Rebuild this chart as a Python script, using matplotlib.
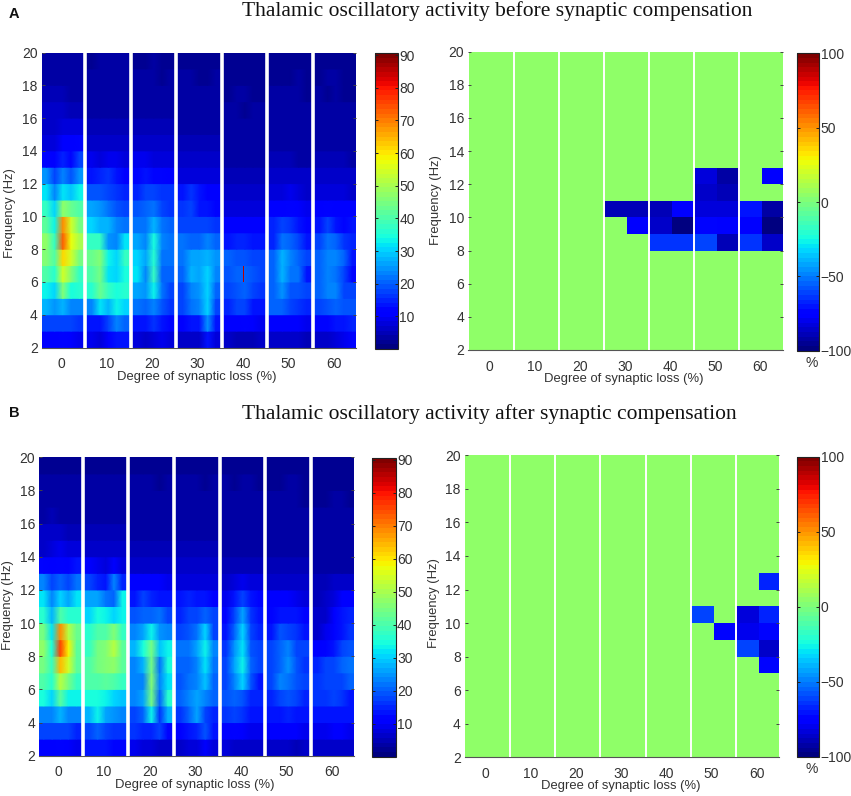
import numpy as np
import matplotlib
matplotlib.use('Agg')
import matplotlib.pyplot as plt
from matplotlib.cm import ScalarMappable
from matplotlib.colors import Normalize

W, H = 851, 796
plt.rcParams['font.family'] = ['Liberation Sans', 'DejaVu Sans']

groups = [0, 10, 20, 30, 40, 50, 60]
freq_edges = np.arange(2, 21)
freq_ticks = np.arange(2, 21, 2)

# power per group, one row per 1 Hz bin from 2-3 Hz up to 19-20 Hz, 5 stripes across
A_power = [
    [[10, 10, 12, 11, 9], [17, 17, 18, 17, 16], [27, 25, 28, 24, 24], [33, 31, 46, 34, 36], [40, 36, 54, 46, 38],
     [46, 40, 62, 54, 45], [47, 38, 73, 57, 50], [42, 33, 68, 54, 44], [38, 30, 48, 43, 40], [32, 23, 32, 29, 33],
     [25, 18, 23, 19, 25], [12, 11, 15, 12, 17], [8, 8, 10, 10, 12], [7, 7, 8, 8, 8], [6, 6, 6, 5, 5],
     [5, 5, 5, 4, 4], [4, 3, 4, 3, 4], [3, 3, 3, 3, 3]],
    [[9, 8, 11, 14, 14], [13, 13, 18, 23, 20], [24, 32, 27, 33, 30], [36, 43, 37, 35, 36], [41, 44, 32, 31, 34],
     [43, 46, 33, 30, 37], [38, 38, 25, 24, 32], [30, 28, 27, 23, 22], [26, 25, 22, 19, 17], [19, 19, 17, 16, 15],
     [14, 15, 16, 13, 11], [9, 8, 9, 9, 8], [7, 6, 6, 7, 6], [5, 5, 5, 5, 5], [4, 4, 4, 4, 4],
     [3, 3, 3, 4, 3], [3, 3, 3, 3, 3], [2, 3, 3, 3, 3]],
    [[8, 7, 8, 9, 8], [14, 14, 16, 14, 12], [22, 21, 24, 19, 16], [26, 25, 33, 22, 18], [32, 24, 38, 20, 21],
     [30, 26, 36, 22, 22], [26, 24, 34, 24, 22], [22, 22, 27, 22, 20], [19, 20, 22, 18, 16], [15, 17, 17, 16, 16],
     [12, 13, 12, 12, 10], [9, 9, 8, 8, 8], [7, 6, 6, 6, 6], [5, 5, 5, 5, 5], [4, 4, 4, 4, 4],
     [3, 3, 3, 3, 3], [3, 3, 3, 2, 3], [2, 2, 3, 2, 2]],
    [[6, 7, 7, 13, 8], [10, 14, 13, 25, 14], [17, 22, 23, 30, 18], [18, 24, 25, 31, 20], [21, 27, 26, 30, 24],
     [22, 26, 26, 28, 25], [22, 21, 20, 23, 20], [17, 18, 17, 18, 16], [16, 17, 14, 14, 12], [13, 16, 13, 11, 10],
     [8, 8, 8, 8, 8], [7, 7, 7, 6, 6], [5, 5, 5, 5, 5], [4, 4, 4, 4, 4], [4, 3, 3, 3, 3],
     [3, 3, 3, 3, 3], [3, 3, 2, 2, 3], [2, 2, 2, 2, 2]],
    [[6, 5, 5, 5, 6], [10, 10, 12, 10, 9], [15, 17, 17, 14, 13], [17, 19, 20, 18, 16], [19, 20, 21, 19, 18],
     [20, 19, 19, 18, 17], [14, 15, 15, 14, 13], [11, 11, 11, 11, 10], [8, 8, 8, 8, 8], [6, 6, 6, 6, 6],
     [5, 5, 5, 5, 5], [4, 4, 4, 4, 4], [3, 3, 3, 3, 3], [3, 3, 3, 3, 3], [3, 3, 2, 3, 3],
     [2, 3, 3, 2, 2], [2, 2, 2, 2, 2], [2, 2, 2, 2, 2]],
    [[6, 6, 6, 6, 5], [11, 11, 10, 11, 9], [20, 21, 17, 16, 15], [20, 25, 19, 19, 18], [21, 27, 22, 22, 13],
     [21, 28, 23, 20, 18], [15, 22, 21, 17, 13], [15, 18, 16, 14, 11], [11, 11, 12, 11, 9], [8, 8, 9, 8, 7],
     [6, 6, 6, 6, 6], [5, 5, 5, 4, 4], [3, 3, 3, 3, 3], [3, 3, 3, 3, 3], [3, 3, 3, 3, 3],
     [3, 3, 3, 3, 2], [2, 2, 2, 3, 2], [2, 2, 2, 2, 2]],
    [[7, 7, 8, 9, 12], [12, 12, 14, 14, 15], [18, 19, 20, 19, 19], [20, 23, 24, 18, 17], [21, 24, 22, 18, 12],
     [20, 23, 24, 21, 13], [17, 22, 20, 16, 15], [13, 18, 14, 12, 13], [11, 12, 10, 11, 10], [8, 8, 8, 8, 7],
     [6, 6, 7, 6, 6], [5, 5, 5, 5, 4], [4, 4, 3, 3, 3], [3, 3, 3, 3, 3], [3, 3, 3, 3, 3],
     [3, 2, 3, 2, 2], [2, 3, 3, 2, 2], [2, 2, 2, 2, 2]],
]
B_power = [
    [[10, 10, 12, 10, 9], [18, 17, 17, 17, 15], [24, 24, 28, 23, 23], [34, 30, 42, 33, 33], [40, 36, 52, 45, 38],
     [44, 38, 64, 54, 42], [48, 34, 76, 58, 42], [44, 32, 68, 52, 43], [36, 28, 40, 36, 36], [32, 23, 30, 26, 32],
     [23, 17, 20, 17, 22], [12, 11, 12, 11, 14], [7, 8, 9, 8, 8], [6, 6, 6, 5, 5], [4, 5, 4, 4, 4],
     [4, 4, 3, 4, 3], [3, 3, 3, 3, 3], [2, 2, 2, 2, 2]],
    [[13, 14, 14, 12, 12], [18, 20, 18, 16, 16], [28, 33, 26, 25, 24], [34, 35, 33, 31, 29], [41, 40, 42, 41, 38],
     [40, 44, 46, 48, 42], [38, 44, 46, 51, 42], [36, 40, 40, 46, 37], [30, 34, 33, 31, 33], [26, 26, 22, 21, 33],
     [18, 15, 13, 23, 15], [10, 9, 8, 10, 8], [6, 6, 6, 6, 6], [5, 5, 5, 5, 5], [4, 4, 4, 4, 4],
     [3, 3, 3, 3, 3], [3, 3, 3, 3, 3], [2, 2, 2, 2, 2]],
    [[9, 8, 8, 7, 6], [16, 15, 15, 18, 12], [18, 21, 33, 16, 27], [24, 26, 45, 20, 36], [24, 24, 46, 24, 32],
     [24, 27, 44, 22, 34], [28, 34, 45, 29, 33], [24, 26, 33, 25, 23], [19, 21, 21, 22, 18], [14, 17, 15, 14, 14],
     [10, 11, 10, 10, 9], [7, 7, 7, 7, 7], [5, 5, 5, 5, 5], [4, 4, 4, 4, 4], [3, 3, 3, 4, 3],
     [3, 3, 3, 3, 3], [3, 3, 3, 2, 3], [2, 2, 2, 2, 2]],
    [[7, 8, 8, 11, 8], [10, 13, 15, 19, 13], [16, 21, 26, 18, 15], [20, 24, 26, 24, 20], [19, 22, 23, 29, 20],
     [21, 21, 24, 32, 22], [22, 22, 26, 33, 23], [18, 19, 22, 30, 18], [15, 17, 18, 21, 17], [13, 15, 13, 14, 11],
     [8, 8, 8, 8, 8], [6, 6, 6, 6, 6], [5, 5, 5, 5, 5], [4, 4, 4, 4, 4], [3, 3, 3, 3, 3],
     [3, 3, 3, 3, 3], [3, 3, 3, 2, 3], [2, 2, 2, 2, 2]],
    [[8, 7, 6, 6, 6], [11, 12, 11, 9, 9], [16, 17, 16, 14, 14], [19, 21, 19, 15, 15], [18, 24, 30, 19, 14],
     [18, 26, 33, 20, 17], [16, 25, 32, 19, 18], [14, 21, 31, 17, 15], [12, 17, 26, 16, 13], [9, 13, 18, 14, 12],
     [7, 8, 9, 8, 8], [5, 5, 5, 5, 5], [4, 4, 4, 4, 4], [3, 3, 3, 3, 3], [3, 3, 3, 3, 3],
     [3, 3, 3, 3, 3], [3, 2, 3, 3, 2], [2, 2, 2, 2, 2]],
    [[7, 7, 7, 5, 6], [10, 10, 10, 10, 9], [14, 14, 15, 14, 14], [15, 18, 19, 18, 15], [18, 23, 22, 19, 17],
     [17, 20, 25, 19, 16], [17, 21, 23, 18, 17], [14, 19, 17, 16, 14], [12, 13, 14, 13, 12], [10, 10, 10, 9, 8],
     [7, 7, 7, 7, 7], [5, 5, 5, 5, 5], [4, 4, 4, 4, 4], [3, 3, 3, 3, 3], [3, 3, 3, 3, 3],
     [3, 3, 3, 3, 2], [2, 2, 3, 3, 2], [2, 2, 2, 2, 2]],
    [[6, 6, 7, 7, 7], [9, 9, 10, 10, 9], [14, 14, 14, 13, 14], [16, 16, 18, 16, 14], [16, 17, 17, 18, 20],
     [15, 17, 18, 20, 22], [10, 12, 14, 17, 19], [7, 9, 12, 13, 16], [7, 7, 10, 13, 15], [5, 6, 8, 10, 10],
     [5, 5, 6, 6, 6], [4, 4, 4, 4, 4], [3, 3, 3, 3, 3], [3, 3, 3, 3, 3], [3, 3, 3, 3, 3],
     [2, 2, 3, 3, 2], [2, 2, 2, 2, 2], [2, 2, 2, 2, 2]],
]

# the one odd cell in panel A: (degree, lower frequency, value)
spike = (40, 6, 85)

# significant change cells, everything else sits at the no-change level
no_change = 5
A_sig_freq = [12, 12, 12, 11, 11, 10, 10, 10, 10, 10, 10, 10, 10, 9, 9, 9, 9, 9, 9, 9, 8, 8, 8, 8, 8, 8]
A_sig_col = [10, 11, 13, 10, 11, 6, 7, 8, 9, 10, 11, 12, 13, 7, 8, 9, 10, 11, 12, 13, 8, 9, 10, 11, 12, 13]
A_sig_val = [-82, -92, -78, -85, -88, -90, -90, -90, -78, -82, -82, -70, -92, -76, -85, -97, -72, -78, -78, -98,
             -65, -65, -60, -88, -65, -85]
B_sig_freq = [12, 10, 10, 10, 9, 9, 9, 8, 8, 7]
B_sig_col = [13, 10, 12, 13, 11, 12, 13, 12, 13, 13]
B_sig_val = [-68, -62, -82, -68, -72, -80, -74, -62, -85, -72]

cmap = plt.get_cmap('jet', 64)
text_color = '#333333'

fig = plt.figure(figsize=(W / 100, H / 100), dpi=100)


def px_axes(x0, y0, x1, y1):
    return fig.add_axes([x0 / W, 1 - y1 / H, (x1 - x0) / W, (y1 - y0) / H])


def px_text(x, y, s, **kw):
    kw.setdefault('color', text_color)
    kw.setdefault('ha', 'center')
    kw.setdefault('va', 'center')
    return fig.text(x / W, 1 - y / H, s, **kw)


def style_axes(ax, xlim):
    ax.set_xlim(*xlim)
    ax.set_ylim(2, 20)
    ax.set_xticks(groups)
    ax.set_yticks(freq_ticks)
    ax.tick_params(axis='x', length=0, pad=7, labelsize=10, labelcolor=text_color)
    ax.tick_params(axis='y', length=2, width=0.7, direction='in', left=True, right=True,
                   pad=3, labelsize=10, labelcolor=text_color, color='#444444')
    for side in ['top', 'left', 'right']:
        ax.spines[side].set_visible(False)
    ax.spines['bottom'].set_color('#555555')
    ax.spines['bottom'].set_linewidth(0.8)


def add_colorbar(box, vmin, vmax, ticks):
    cax = px_axes(*box)
    sm = ScalarMappable(norm=Normalize(vmin, vmax), cmap=cmap)
    cb = fig.colorbar(sm, cax=cax, ticks=ticks)
    cb.outline.set_edgecolor('#222222')
    cb.outline.set_linewidth(0.8)
    cax.tick_params(axis='y', which='both', direction='in', length=2.5, width=0.7, left=True, right=True,
                    pad=1, labelsize=10, labelcolor=text_color, color='#222222')
    return cb


def draw_power(ax, power, norm):
    # stripes inside a group are blurred across x but sharp between frequency bins
    for g, table in zip(groups, power):
        table = np.array(table, dtype=float)
        x = g + np.array([-4.6, -3.2, -1.4, 0.4, 2.2, 4.0, 5.6])
        for i, row in enumerate(table):
            vals = np.r_[row[0], row, row[-1]]
            ax.pcolormesh(x, [freq_edges[i], freq_edges[i + 1]], np.vstack([vals, vals]),
                          shading='gouraud', cmap=cmap, norm=norm)
    for g in groups[:-1]:
        ax.axvline(g + 5.35, color='white', lw=2.6, zorder=3)


def draw_sig(ax, sig_freq, sig_col, sig_val, norm):
    grid = np.full((18, 14), float(no_change))
    for f, c, v in zip(sig_freq, sig_col, sig_val):
        grid[f - 2, c] = v
    x_edges = -4.5 + 5 * np.arange(15)
    ax.pcolormesh(x_edges, freq_edges, grid, cmap=cmap, norm=norm)
    for g in groups[:-1]:
        ax.axvline(g + 5.4, color='white', lw=1.4, zorder=3)


power_norm = Normalize(0, 90.5)
sig_norm = Normalize(-100, 100)
power_ticks = list(range(10, 100, 10))
sig_ticks = [-100, -50, 0, 50, 100]

# panel A
ax = px_axes(42, 52.5, 356, 347.5)
draw_power(ax, A_power, power_norm)
ax.pcolormesh([spike[0] - 0.1, spike[0] + 0.2], [spike[1], spike[1] + 1], [[spike[2]]], cmap=cmap, norm=power_norm,
              zorder=2)
style_axes(ax, (-4.2, 64.8))
add_colorbar((374.5, 53.5, 398, 349), 0, 90.5, power_ticks)

ax = px_axes(468.3, 51.7, 782.7, 350)
draw_sig(ax, A_sig_freq, A_sig_col, A_sig_val, sig_norm)
style_axes(ax, (-4.7, 65))
add_colorbar((796.7, 53.3, 819.3, 350.7), -100, 100, sig_ticks)

# panel B
ax = px_axes(39.3, 457.3, 354, 755.7)
draw_power(ax, B_power, power_norm)
style_axes(ax, (-4.2, 64.8))
add_colorbar((371.7, 458.3, 395.7, 756.7), 0, 90.5, power_ticks)

ax = px_axes(465, 455.3, 779.3, 757.3)
draw_sig(ax, B_sig_freq, B_sig_col, B_sig_val, sig_norm)
style_axes(ax, (-4.6, 65))
add_colorbar((796.7, 456.7, 819.3, 757), -100, 100, sig_ticks)

# labels placed by hand like the figure
xlabel = 'Degree of synaptic loss (%)'
ylabel = 'Frequency (Hz)'
for x, y in [(197, 377), (624, 379), (195, 785), (621, 786)]:
    px_text(x, y, xlabel, fontsize=9.4)
for x, y in [(10, 213), (436, 200), (8, 605), (434, 603)]:
    px_text(x, y, ylabel, fontsize=9.4, rotation=90)
px_text(812, 363, '%', fontsize=10)
px_text(812, 769, '%', fontsize=10)

px_text(497, 11, 'Thalamic oscillatory activity before synaptic compensation', family='Liberation Serif',
        fontsize=15.5, color='#111111')
px_text(489, 414, 'Thalamic oscillatory activity after synaptic compensation', family='Liberation Serif',
        fontsize=15.5, color='#111111')
px_text(14, 14, 'A', fontsize=10.5, fontweight='bold', color='#111111')
px_text(14, 413, 'B', fontsize=10.5, fontweight='bold', color='#111111')

fig.savefig('out.png', dpi=100)
